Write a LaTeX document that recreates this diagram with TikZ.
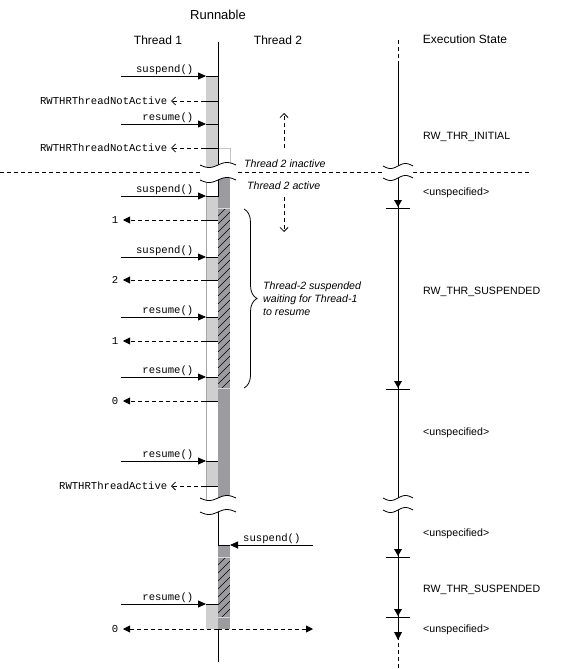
\documentclass[tikz,border=0pt]{standalone}
\usepackage{fontspec}
\setmainfont{Liberation Sans}
\newfontfamily\codefont{Liberation Mono}
\usetikzlibrary{arrows.meta,decorations.pathreplacing}
\definecolor{lightbar}{HTML}{CFCFCF}
\definecolor{darkbar}{HTML}{9C9B9F}
\definecolor{outl}{HTML}{A8A8A8}
\definecolor{outlb}{HTML}{C4C4C4}
\tikzset{
  ln/.style={line width=0.8pt},
  dsh/.style={line width=0.8pt, dash pattern=on 4pt off 3pt},
  calltip/.style={ln, -{Triangle[length=8pt,width=7pt]}},
  rettip/.style={dsh, -{Triangle[length=7pt,width=7pt]}},
  exctip/.style={dsh, -{Straight Barb[length=4pt,width=8pt]}},
  codelbl/.style={font=\codefont\fontsize{10.6}{12}\selectfont, inner sep=0pt},
  smalllbl/.style={font=\fontsize{10.6}{12}\selectfont, inner sep=0pt},
  itlbl/.style={font=\itshape\fontsize{10.6}{12}\selectfont, inner sep=0pt},
  hdrlbl/.style={font=\fontsize{12}{14}\selectfont, inner sep=0pt},
}
% call from Thread 1: name, y, text
\newcommand\lcall[3]{%
  \coordinate (#1s) at (121,#2);
  \coordinate (#1t) at (206,#2);
  \coordinate (#1e) at (218,#2);
  \draw[calltip] (#1s) -- (#1t);
  \draw[ln] (#1t) -- (#1e);
  \node[codelbl, anchor=base east] (#1lbl) at (193.5,{#2-4}) {#3};
}
% numeric return: name, y, text
\newcommand\lretn[3]{%
  \coordinate (#1e) at (218,#2);
  \coordinate (#1m) at (205,#2);
  \coordinate (#1t) at (123,#2);
  \draw[ln] (#1e) -- (#1m);
  \draw[rettip] (#1m) -- (#1t);
  \node[codelbl, anchor=base east] (#1lbl) at (118.5,{#2+3.5}) {#3};
}
% exception return: name, y, text
\newcommand\lretx[3]{%
  \coordinate (#1e) at (218,#2);
  \coordinate (#1m) at (205,#2);
  \coordinate (#1t) at (171,#2);
  \draw[ln] (#1e) -- (#1m);
  \draw[exctip] (#1m) -- (#1t);
  \node[codelbl, anchor=base east] (#1lbl) at (167.5,{#2+3.5}) {#3};
}
% break mark: cx, half width, ytop, ybottom, degrees per unit
\newcommand\brkmark[5]{%
  \fill[white] plot[domain=-#2:#2,samples=31] ({#1+\x},{#3-2.5*sin(#5*\x)})
     -- plot[domain=#2:-#2,samples=31] ({#1+\x},{#4-2.5*sin(#5*\x)}) -- cycle;
  \draw[ln] plot[domain=-#2:#2,samples=31,smooth] ({#1+\x},{#3-2.5*sin(#5*\x)});
  \draw[ln] plot[domain=-#2:#2,samples=31,smooth] ({#1+\x},{#4-2.5*sin(#5*\x)});
}
% state tick with arrow: y
\newcommand\sttick[1]{%
  \fill (394,{#1-8}) -- (402,{#1-8}) -- (398,{#1-1}) -- cycle;
  \draw[ln] (386,#1) -- (410,#1);
}
\newcommand\stlabel[3]{%
  \node[smalllbl, anchor=base west] (#1) at (423,#2) {#3};
}

\begin{document}
\begin{tikzpicture}[x=1pt,y=-1pt]
\useasboundingbox (0,0) rectangle (567,669);

% ---------- bars ----------
% top section
\fill[lightbar] (206,76) rectangle (218,167);
\draw[outlb, line width=0.7pt] (218,148) -- (230,148) -- (230,167);
% middle section
\fill[lightbar] (206,196) rectangle (218,220);
\fill[lightbar] (206,257) rectangle (218,280);
\fill[lightbar] (206,317) rectangle (218,341);
\fill[lightbar] (206,377) rectangle (218,401);
\fill[lightbar] (206,461) rectangle (218,486);
\draw[outl, line width=0.7pt] (206,177) -- (206,500);
\fill[darkbar] (218,177) rectangle (230,500);
\fill[darkbar] (218,208) rectangle (230,388);
\begin{scope}
  \clip (218,208) rectangle (230,388);
  \foreach \k in {0,...,25} \draw[line width=0.6pt] (218,{208+\k*8}) -- (230,{196+\k*8});
\end{scope}
\draw[white!85!black, line width=0.7pt] (218,208) -- (230,208);
\draw[white!85!black, line width=0.7pt] (218,388) -- (230,388);
% bottom section
\fill[lightbar] (206,604) rectangle (218,629);
\fill[darkbar] (218,545) rectangle (230,629);
\begin{scope}
  \clip (218,557) rectangle (230,617);
  \foreach \k in {0,...,10} \draw[line width=0.6pt] (218,{557+\k*8}) -- (230,{545+\k*8});
\end{scope}
\draw[white!85!black, line width=0.7pt] (218,557) -- (230,557);
\draw[white!85!black, line width=0.7pt] (218,617) -- (230,617);

% ---------- lifelines ----------
\coordinate (lt) at (218,42);
\coordinate (lb1) at (218,167);
\coordinate (lm1) at (218,177);
\coordinate (lm2) at (218,197);
\coordinate (lbo) at (218,510);
\coordinate (lbo2) at (218,545);
\coordinate (lbo3) at (218,629);
\coordinate (lend) at (218,662);
\draw[ln] (lt) -- (lb1);
\draw[ln] (lm1) -- (lm2);
\draw[ln] (lbo) -- (lbo2);
\draw[ln] (lbo3) -- (lend);

% execution state line
\coordinate (st0) at (398,40);
\coordinate (st1) at (398,63);
\coordinate (st2) at (398,168);
\coordinate (st3) at (398,176);
\coordinate (st4) at (398,500);
\coordinate (st5) at (398,509);
\coordinate (st6) at (398,640);
\coordinate (st7) at (398,643);
\coordinate (st8) at (398,668);
\draw[dsh] (st0) -- (st1);
\draw[ln] (st1) -- (st2);
\draw[ln] (st3) -- (st4);
\draw[ln] (st5) -- (st6);
\draw[dsh] (st7) -- (st8);
\sttick{208}
\sttick{389}
\sttick{557}
\sttick{617}
\fill (394,632) -- (402,632) -- (398,640) -- cycle;

% ---------- calls / returns ----------
\lcall{ca}{76}{suspend()}
\lretx{ra}{101}{RWTHRThreadNotActive}
\lcall{cb}{124}{resume()}
\lretx{rb}{148}{RWTHRThreadNotActive}

\lcall{cc}{196}{suspend()}
\lretn{rc}{220}{1}
\lcall{cd}{257}{suspend()}
\lretn{rd}{280}{2}
\lcall{ce}{317}{resume()}
\lretn{re}{341}{1}
\lcall{cf}{377}{resume()}
\lretn{rf}{401}{0}
\lcall{cg}{461}{resume()}
\lretx{rg}{486}{RWTHRThreadActive}

% bottom
\coordinate (chs) at (313,545);
\coordinate (cht) at (230,545);
\coordinate (che) at (218,545);
\draw[calltip] (chs) -- (cht);
\draw[ln] (cht) -- (che);
\node[codelbl, anchor=base west] (chlbl) at (243,541) {suspend()};
\lcall{ci}{604}{resume()}
\coordinate (rzm) at (218,629);
\coordinate (rzl) at (123,629);
\coordinate (rzr) at (313,629);
\draw[rettip] (rzm) -- (rzl);
\draw[rettip] (rzm) -- (rzr);
\node[codelbl, anchor=base east] (rzlbl) at (118.5,632.5) {0};

% Thread 2 inactive / active arrows
\coordinate (ia) at (284,148);
\coordinate (ib) at (284,113);
\draw[dsh, -{Straight Barb[length=4pt,width=8pt]}] (ia) -- (ib);
\coordinate (aa) at (284,197);
\coordinate (ab) at (284,232);
\draw[dsh, -{Straight Barb[length=4pt,width=8pt]}] (aa) -- (ab);

% separator line
\coordinate (sepl) at (0,172);
\coordinate (sepr) at (530,172);
\draw[dsh] (sepl) -- (sepr);

% breaks
\brkmark{218}{18}{165}{180}{10}
\brkmark{398}{15}{166}{178}{12}
\brkmark{218}{18}{498}{512}{10}
\brkmark{398}{15}{498}{510}{12}

% brace
\coordinate (brt) at (244,209);
\coordinate (brb) at (244,388);
\draw[ln, decorate, decoration={brace, amplitude=13pt}] (brt) -- (brb);
\node[itlbl, anchor=base west] (bt1) at (263,289) {Thread-2 suspended};
\node[itlbl, anchor=base west] (bt2) at (263,302) {waiting for Thread-1};
\node[itlbl, anchor=base west] (bt3) at (263,315) {to resume};

% ---------- labels ----------
\node[font=\fontsize{13}{15}\selectfont, inner sep=0pt, anchor=base] (runnable) at (218,19.5) {Runnable};
\node[hdrlbl, anchor=base] (th1) at (158,45) {Thread 1};
\node[hdrlbl, anchor=base] (th2) at (278,45) {Thread 2};
\node[hdrlbl, anchor=base] (exs) at (465,44) {Execution State};
\node[itlbl, anchor=base west] (t2in) at (244,167) {Thread 2 inactive};
\node[itlbl, anchor=base west] (t2ac) at (247,189) {Thread 2 active};

\stlabel{s1}{139}{RW\_THR\_INITIAL}
\stlabel{s2}{195}{<unspecified>}
\stlabel{s3}{294}{RW\_THR\_SUSPENDED}
\stlabel{s4}{435}{<unspecified>}
\stlabel{s5}{536}{<unspecified>}
\stlabel{s6}{592}{RW\_THR\_SUSPENDED}
\stlabel{s7}{632}{<unspecified>}
\end{tikzpicture}
\end{document}
